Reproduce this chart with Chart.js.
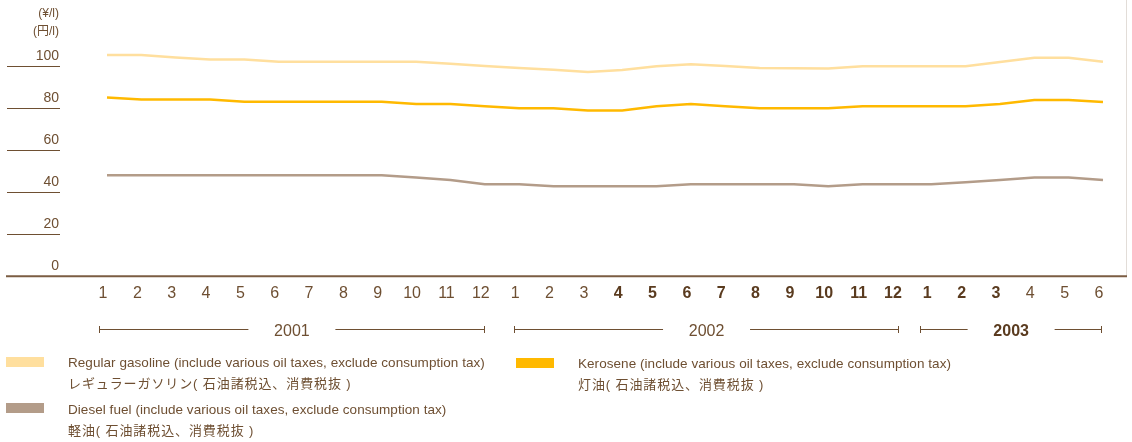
<!DOCTYPE html>
<html><head><meta charset="utf-8">
<script src="https://cdn.jsdelivr.net/npm/chart.js@4"></script>
<style>
html,body{margin:0;padding:0;background:#fff;}
#wrap{position:relative;width:1132px;height:442px;overflow:hidden;}
canvas{position:absolute;left:0;top:0;}
.t{position:absolute;white-space:nowrap;color:#6e4f32;}
.en{font-family:"Liberation Sans",sans-serif;font-size:13.5px;letter-spacing:0.05px;line-height:16px;}
.jp{font-family:"Liberation Sans","Noto Sans CJK JP",sans-serif;font-size:13px;letter-spacing:0.9px;line-height:16px;}
.unit{font-family:"Liberation Sans","Noto Sans CJK JP",sans-serif;font-size:12px;line-height:14px;text-align:right;width:59px;left:0;}
.sw{position:absolute;width:38px;height:10px;}
</style></head>
<body><div id="wrap"><canvas id="c" width="1132" height="442"></canvas>
<div class="t unit" style="top:6px">(¥/l)</div>
<div class="t unit" style="top:24px">(円/l)</div>
<div id="legend"></div>
</div>
<script>
// ---- data ----
const months = ['1','2','3','4','5','6','7','8','9','10','11','12',
                '1','2','3','4','5','6','7','8','9','10','11','12',
                '1','2','3','4','5','6'];
const gasoline = [105.4,105.4,104.2,103.2,103.2,102.2,102.2,102.2,102.2,102.2,101.2,100.2,
                  99.2,98.3,97.3,98.2,100,101,100.1,99.2,99.1,99,100,100,
                  100,100,102,104.1,104.1,102.2];
const kerosene = [85.2,84.2,84.2,84.2,83.1,83.1,83.1,83.1,83.1,82,82,81,
                  80,80,79,79,81,82,81,80,80,80,81,81,
                  81,81,82,84,84,83];
const diesel   = [48.1,48.1,48.1,48.1,48.1,48.1,48.1,48.1,48.1,47.1,45.9,43.8,
                  43.8,42.9,42.9,42.9,42.9,43.8,43.8,43.8,43.8,42.9,43.8,43.8,
                  43.8,44.8,45.9,47,47,45.9];
const yTicks = [0,20,40,60,80,100];
const years = ['2001','2002','2003'];
const yearFirst = [0,12,24];
const yearLast = [11,23,29];
const namesEn = ['Regular gasoline (include various oil taxes, exclude consumption tax)',
                 'Kerosene (include various oil taxes, exclude consumption tax)',
                 'Diesel fuel (include various oil taxes, exclude consumption tax)'];
const namesJp = ['レギュラーガソリン( 石油諸税込、消費税抜 )',
                 '灯油( 石油諸税込、消費税抜 )',
                 '軽油( 石油諸税込、消費税抜 )'];

// ---- style ----
const TEXT = '#6e4f32', BOLDTEXT = '#5a3b1f', AXIS = '#7b5d43';
const colors = ['#FFDF9E', '#FFB900', '#B39C89'];
const boldFrom = 15, boldTo = 26, boldYear = 2;
const bracketPad = [[-8,0],[-5,2],[-11,-1]];
const legendPos = [{sx:6,sy:357,tx:68,ty:355},{sx:516,sy:358,tx:578,ty:356},{sx:6,sy:403,tx:68,ty:402}];

const lg = document.getElementById('legend');
legendPos.forEach((p,i)=>{
  const s = document.createElement('div'); s.className='sw';
  s.style.left=p.sx+'px'; s.style.top=p.sy+'px'; s.style.background=colors[i]; lg.appendChild(s);
  const e = document.createElement('div'); e.className='t en'; e.textContent=namesEn[i];
  e.style.left=p.tx+'px'; e.style.top=p.ty+'px'; lg.appendChild(e);
  const j = document.createElement('div'); j.className='t jp'; j.textContent=namesJp[i];
  j.style.left=p.tx+'px'; j.style.top=(p.ty+21)+'px'; lg.appendChild(j);
});

const isBold = i => i>=boldFrom && i<=boldTo;

const decor = {
  id:'decor',
  afterDraw(chart){
    const {ctx} = chart; const xs = chart.scales.x, ys = chart.scales.y;
    ctx.save();
    const y0 = ys.getPixelForValue(0);
    // right border
    ctx.strokeStyle = '#e2ddd8'; ctx.lineWidth = 1;
    ctx.beginPath(); ctx.moveTo(1126.5, 0); ctx.lineTo(1126.5, y0); ctx.stroke();
    // bottom axis
    ctx.strokeStyle = AXIS; ctx.lineWidth = 2;
    ctx.beginPath(); ctx.moveTo(6, y0); ctx.lineTo(1127, y0); ctx.stroke();
    // short grid segments
    ctx.lineWidth = 1; ctx.strokeStyle = TEXT;
    yTicks.forEach(v=>{ if(v===0) return;
      const y = Math.round(ys.getPixelForValue(v))+0.5;
      ctx.beginPath(); ctx.moveTo(7,y); ctx.lineTo(60,y); ctx.stroke(); });
    // year brackets
    const by = 329.5;
    years.forEach((yr,k)=>{
      const l = xs.getPixelForValue(yearFirst[k]) + bracketPad[k][0];
      const r = xs.getPixelForValue(yearLast[k]) + bracketPad[k][1];
      const m = (l+r)/2;
      ctx.strokeStyle = TEXT; ctx.lineWidth = 1;
      ctx.beginPath();
      ctx.moveTo(l, by); ctx.lineTo(m-43.5, by);
      ctx.moveTo(m+43.5, by); ctx.lineTo(r, by);
      ctx.moveTo(Math.round(l)+0.5, by-3.5); ctx.lineTo(Math.round(l)+0.5, by+3.5);
      ctx.moveTo(Math.round(r)-0.5, by-3.5); ctx.lineTo(Math.round(r)-0.5, by+3.5);
      ctx.stroke();
      ctx.fillStyle = k===boldYear ? BOLDTEXT : TEXT;
      ctx.font = (k===boldYear?'bold ':'') + '16px "Liberation Sans"';
      ctx.textAlign = 'center'; ctx.textBaseline = 'alphabetic';
      ctx.fillText(yr, m, 335.5);
    });
    ctx.restore();
  }
};

new Chart(document.getElementById('c'), {
  type:'line',
  data:{labels:months, datasets:[
    {label:namesEn[0], data:gasoline, borderColor:colors[0], borderWidth:2.5, pointRadius:0, tension:0, clip:false},
    {label:namesEn[1], data:kerosene, borderColor:colors[1], borderWidth:2.5, pointRadius:0, tension:0, clip:false},
    {label:namesEn[2], data:diesel, borderColor:colors[2], borderWidth:2.5, pointRadius:0, tension:0, clip:false}
  ]},
  options:{
    responsive:false, animation:false, devicePixelRatio:1,
    layout:{padding:{left:7, right:29, top:24.3, bottom:125.7}},
    plugins:{legend:{display:false}, tooltip:{enabled:false}},
    scales:{
      x:{type:'category', offset:false,
         grid:{display:false, drawTicks:false}, border:{display:false},
         ticks:{autoSkip:false, maxRotation:0, minRotation:0, padding:8, labelOffset:-4,
                color:c=>isBold(c.index)?BOLDTEXT:TEXT,
                font:c=>({family:'Liberation Sans', size:16, weight:isBold(c.index)?'bold':'normal'})},
         afterFit:s=>{s.height=40;}},
      y:{min:0, max:120,
         grid:{display:false, drawTicks:true, tickLength:45}, border:{display:false},
         afterBuildTicks:s=>{s.ticks = yTicks.map(v=>({value:v}));},
         ticks:{padding:3, labelOffset:-10.5, color:TEXT, font:{family:'Liberation Sans', size:14}},
         afterFit:s=>{s.width=100;}}
    }
  },
  plugins:[decor]
});
</script>
</body></html>
